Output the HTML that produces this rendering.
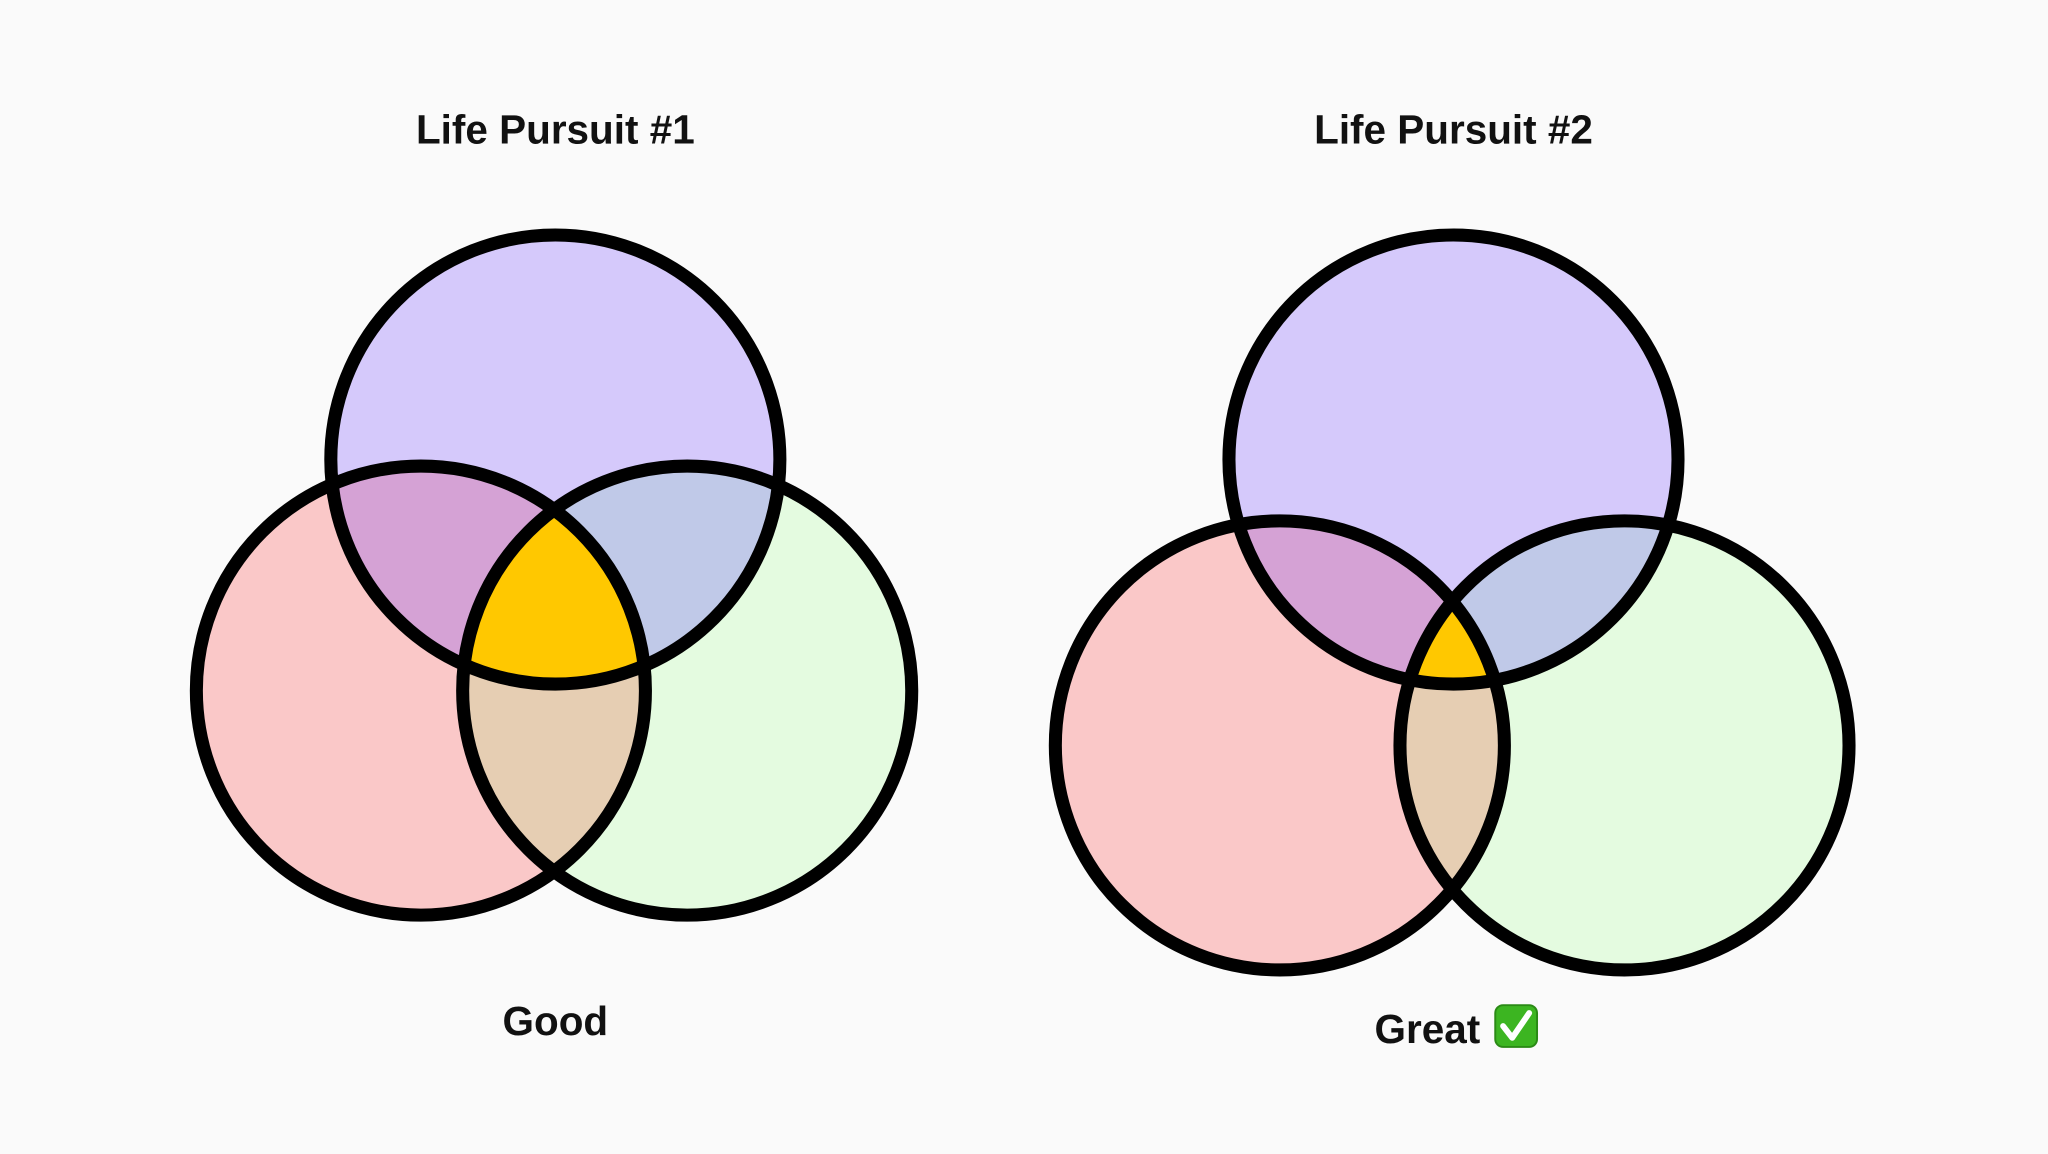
<!DOCTYPE html>
<html>
<head>
<meta charset="utf-8">
<style>
  html,body{margin:0;padding:0;background:#fafafa;}
  svg{display:block;}
  text{font-family:"Liberation Sans","DejaVu Sans",sans-serif;font-weight:bold;fill:#111;}
</style>
</head>
<body>
<svg id="chart" width="2048" height="1154" viewBox="0 0 1568 884" xmlns="http://www.w3.org/2000/svg">
  <rect width="1568" height="884" fill="#fafafa"/>
  <defs id="defs"></defs>
  <g id="g1"></g>
  <g id="g2"></g>
  <text x="425" y="110" text-anchor="middle" font-size="31">Life Pursuit #1</text>
  <text x="1113" y="110" text-anchor="middle" font-size="31">Life Pursuit #2</text>
  <text x="425" y="793" text-anchor="middle" font-size="31">Good</text>
  <text x="1093" y="799" text-anchor="middle" font-size="31">Great</text>
  <g>
    <rect x="1145" y="770" width="32" height="32" rx="6" fill="#3cb521" stroke="#2a8a15" stroke-width="1.5"/>
    <path d="M1151 786 L1158 795 L1171 776" fill="none" stroke="#fff" stroke-width="4.5" stroke-linecap="round" stroke-linejoin="round"/>
  </g>
</svg>
<script>
// Circle data: [top, left, right] for each diagram
const venn1X = [425, 322, 526];
const venn1Y = [352, 529, 529];
const venn1R = [172, 172, 172];
const venn2X = [1113, 980, 1244];
const venn2Y = [352, 571, 571];
const venn2R = [172, 172, 172];
const fillColors = ["#d5c9fb", "#fac8c8", "#e4fbe0"];
const pairColors = ["#d5a2d5", "#c0c9e8", "#e6ceb3"]; // top-left, top-right, left-right
const centerColor = "#ffc800";

const NS = "http://www.w3.org/2000/svg";
const defs = document.getElementById("defs");

function circ(x, y, r) {
  const c = document.createElementNS(NS, "circle");
  c.setAttribute("cx", x); c.setAttribute("cy", y); c.setAttribute("r", r);
  return c;
}

function drawVenn(gid, xs, ys, rs, prefix) {
  const g = document.getElementById(gid);
  const names = ["top", "left", "right"];
  // clip paths
  for (let i = 0; i < 3; i++) {
    const cp = document.createElementNS(NS, "clipPath");
    cp.setAttribute("id", prefix + "clip" + i);
    cp.appendChild(circ(xs[i], ys[i], rs[i]));
    defs.appendChild(cp);
  }
  // base fills
  for (let i = 0; i < 3; i++) {
    const c = circ(xs[i], ys[i], rs[i]);
    c.setAttribute("fill", fillColors[i]);
    
    
    g.appendChild(c);
  }
  // pair overlaps
  const pairs = [[0, 1], [0, 2], [1, 2]];
  const pairNames = ["overlap-top-left", "overlap-top-right", "overlap-left-right"];
  pairs.forEach((p, k) => {
    const wrap = document.createElementNS(NS, "g");
    wrap.setAttribute("clip-path", "url(#" + prefix + "clip" + p[0] + ")");
    const c = circ(xs[p[1]], ys[p[1]], rs[p[1]]);
    c.setAttribute("fill", pairColors[k]);
    
    
    wrap.appendChild(c);
    g.appendChild(wrap);
  });
  // center triple overlap
  const w1 = document.createElementNS(NS, "g");
  w1.setAttribute("clip-path", "url(#" + prefix + "clip0)");
  const w2 = document.createElementNS(NS, "g");
  w2.setAttribute("clip-path", "url(#" + prefix + "clip1)");
  const cc = circ(xs[2], ys[2], rs[2]);
  cc.setAttribute("fill", centerColor);
  
  
  w2.appendChild(cc); w1.appendChild(w2); g.appendChild(w1);
  // outlines
  for (let i = 0; i < 3; i++) {
    const c = circ(xs[i], ys[i], rs[i]);
    c.setAttribute("fill", "none");
    c.setAttribute("stroke", "#000");
    c.setAttribute("stroke-width", "10");
    
    
    g.appendChild(c);
  }
}

drawVenn("g1", venn1X, venn1Y, venn1R, "a");
drawVenn("g2", venn2X, venn2Y, venn2R, "b");
</script>
</body>
</html>
